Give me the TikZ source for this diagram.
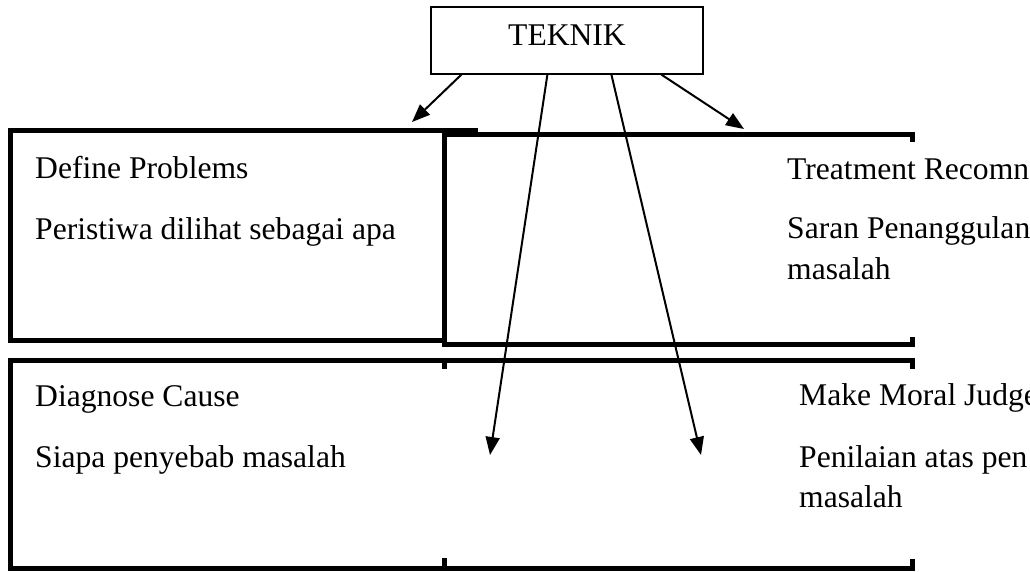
\documentclass[tikz,border=0pt]{standalone}
\usepackage{fontspec}
\setmainfont{Liberation Serif}
\usetikzlibrary{arrows.meta}
\begin{document}
\begin{tikzpicture}[x=1pt,y=-1pt,
  frame/.style={line width=5pt, line cap=rect, line join=miter},
  lbl/.style={anchor=base west, inner sep=0pt, font=\fontsize{31.6}{40}\selectfont},
  arr/.style={line width=2pt, -{Triangle[length=18pt,width=14pt]}}]
\useasboundingbox (0,0) rectangle (1030,571);
\clip (0,0) rectangle (1030,571);
% top-left box
\draw[frame] (10,130) -- (475,130);
\draw[frame] (10,130) -- (10,340) -- (444,340);
% top-right box
\draw[frame] (444,130) -- (444,344) -- (912,344) -- (912,339);
\draw[frame] (444,134) -- (912,134) -- (912,139);
% bottom boxes
\draw[frame] (912,366) -- (912,360) -- (10,360) -- (10,568) -- (912,568) -- (912,561);
\draw[frame] (444,360) -- (444,366);
\draw[frame] (444,568) -- (444,560);
% TEKNIK box
\node[draw, line width=1.2pt, fill=white, minimum width=272pt, minimum height=67pt, inner sep=0pt] (t) at (567,40.5) {};
\node[lbl, anchor=base] (tlabel) at (567,45) {TEKNIK};
% arrow starts / ends
\path (t.south west) ++(31,0) coordinate (s1);
\path (t.south west) ++(117,0) coordinate (s2);
\path (t.south west) ++(181,0) coordinate (s3);
\path (t.south west) ++(231,0) coordinate (s4);
\coordinate (e1) at (412,122);
\coordinate (e2) at (490,455);
\coordinate (e3) at (701,455);
\coordinate (e4) at (744,129);
\draw[arr] (s1) -- (e1);
\draw[arr] (s2) -- (e2);
\draw[arr] (s3) -- (e3);
\draw[arr] (s4) -- (e4);
% texts
\node[lbl] (dp) at (35,178) {Define Problems};
\node[lbl] (dp2) at (35,239) {Peristiwa dilihat sebagai apa};
\node[lbl] (tr) at (787,179) {Treatment Recomn};
\node[lbl] (tr2) at (787,238) {Saran Penanggulan};
\node[lbl] (tr3) at (787,279) {masalah};
\node[lbl] (dc) at (35,406) {Diagnose Cause};
\node[lbl] (dc2) at (35,467) {Siapa penyebab masalah};
\node[lbl] (mm) at (799,405) {Make Moral Judge};
\node[lbl] (mm2) at (799,467) {Penilaian atas pen};
\node[lbl] (mm3) at (799,507) {masalah};
\end{tikzpicture}
\end{document}
